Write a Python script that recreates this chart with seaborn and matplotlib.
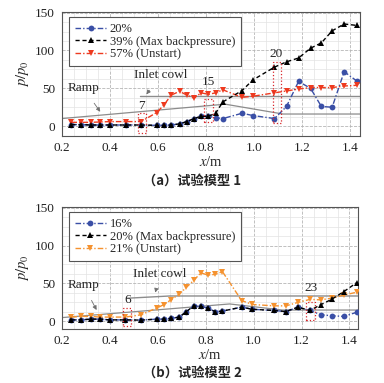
import seaborn as sns
import matplotlib.pyplot as plt
from matplotlib.patches import Rectangle
from matplotlib.ticker import MultipleLocator, AutoMinorLocator

# pressure tap stations (x, m), 27 taps
x_st = [0.24, 0.28, 0.32, 0.36, 0.40, 0.465, 0.53, 0.595, 0.625, 0.655, 0.69, 0.72, 0.75, 0.78,
        0.81, 0.84, 0.87, 0.95, 0.995, 1.085, 1.135, 1.185, 1.235, 1.28, 1.325, 1.375, 1.43]

# model 1
m1_20 = [2, 2, 1.5, 1.5, 1.5, 1.5, 1.5, 1, 1, 1.5, 3, 6, 10, 13, 13,
         11, 10, 17, 14, 10, 26, 59, 50, 26, 25, 72, 59]
m1_39 = [2, 2, 1.5, 1.5, 1.5, 1.5, 1.5, 1, 1, 1.5, 3, 6, 10, 13, 13,
         17, 32, 47, 61, 78, 85, 90, 103, 110, 126, 135, 133]
m1_57 = [5, 5, 5, 5.5, 6, 6, 6, 18, 28, 41, 46, 41, 37, 44, 42,
         44, 48, 38, 39.5, 44, 46.5, 49, 51, 51, 51, 53, 54]
m1_labels = ["20%", "39% (Max backpressure)", "57% (Unstart)"]

# model 2
m2_16 = [2, 2, 3, 3, 2, 2, 1.7, 3, 3, 4, 5.7, 13, 20.5, 19.7, 17.5,
         12.7, 13.6, 18.8, 16, 14.4, 13, 18.8, 14.4, 8.8, 7.5, 6.6, 12]
m2_20 = [2, 2, 3, 3, 2, 2, 1.7, 3, 3, 4, 5.7, 13, 20.5, 19.7, 17.5,
         12.7, 13.6, 18.8, 16, 14.4, 13, 18.8, 14.4, 22, 29, 39, 51]
m2_21 = [5.7, 6.6, 6.6, 5.7, 5.7, 5.7, 8.7, 17.5, 22, 28.4, 36, 45, 54, 64, 61,
         62, 65.6, 27.5, 22.3, 20.5, 20.5, 25, 29, 28.4, 30.6, 34.5, 38.5]
m2_labels = ["16%", "20% (Max backpressure)", "21% (Unstart)"]

# geometry outlines
ramp1_x = [0.2, 0.88, 1.12, 1.44]
ramp1_y = [10, 29, 16, 16]
cowl1_x = [0.525, 1.44]
cowl1_y = [40, 40]
ramp2_x = [0.2, 0.9, 1.12, 1.435]
ramp2_y = [5, 23, 15, 15]
cowl2_x = [0.47, 0.65, 1.435]
cowl2_y = [30.5, 33.5, 33.5]

sns.set_style("white")
plt.rcParams["font.family"] = ["Liberation Serif", "DejaVu Serif"]
plt.rcParams["mathtext.fontset"] = "stix"

fig = plt.figure(figsize=(3.84, 3.83), dpi=100)
ax1 = fig.add_axes([0.161, 0.645, 0.776, 0.324])
ax2 = fig.add_axes([0.161, 0.141, 0.771, 0.319])

blue = "#3a4fa6"
red = "#ee3a1f"
orange = "#f5922f"


def draw(ax, ys, labels, colors, rx, ry, cx, cy):
    ax.plot(rx, ry, color="#8c8c8c", lw=0.9, zorder=2)
    ax.plot(cx, cy, color="#8c8c8c", lw=1.0, zorder=2)
    sns.lineplot(x=x_st, y=ys[0], ax=ax, color=colors[0], marker="o", markersize=4.2,
                 markeredgewidth=0, linestyle=(0, (4, 1.5, 1, 1.5)), lw=1.0,
                 label=labels[0], zorder=3)
    sns.lineplot(x=x_st, y=ys[1], ax=ax, color="black", marker="^", markersize=4.8,
                 markeredgewidth=0, linestyle=(0, (3, 2)), lw=1.0, label=labels[1], zorder=4)
    sns.lineplot(x=x_st, y=ys[2], ax=ax, color=colors[2], marker="v", markersize=4.8,
                 markeredgewidth=0, linestyle=(0, (4, 1.5, 1, 1.5)), lw=1.0,
                 label=labels[2], zorder=3)
    ax.xaxis.set_major_locator(MultipleLocator(0.2))
    ax.yaxis.set_major_locator(MultipleLocator(50))
    ax.xaxis.set_minor_locator(AutoMinorLocator(4))
    ax.yaxis.set_minor_locator(AutoMinorLocator(4))
    ax.grid(which="major", color="#b5b5b5", linestyle="--", lw=0.6)
    ax.grid(which="minor", color="#e3e3e3", linestyle="-", lw=0.5)
    ax.set_axisbelow(True)
    ax.tick_params(axis="both", which="major", labelsize=9.5, direction="in", length=3,
                   width=0.6, colors="#222222")
    ax.tick_params(axis="y", pad=5)
    ax.tick_params(axis="x", pad=4)
    for s in ax.spines.values():
        s.set_color("#555555")
        s.set_linewidth(0.8)
    ax.set_xlabel("$x$/m", fontsize=10.5, labelpad=1)
    ax.set_ylabel("$p/p_0$", fontsize=10.5, labelpad=3)
    ax.set_xticklabels([f"{t:.1f}" for t in ax.get_xticks()])
    leg = ax.legend(loc="upper left", bbox_to_anchor=(0.025, 0.955), fontsize=9,
                    frameon=True, fancybox=False, framealpha=1, edgecolor="#555555",
                    handlelength=2.5, handletextpad=0.3, borderpad=0.45, labelspacing=0.05,
                    borderaxespad=0)
    leg.get_frame().set_linewidth(0.8)


def box(ax, x0, x1, y0, y1):
    ax.add_patch(Rectangle((x0, y0), x1 - x0, y1 - y0, fill=False, edgecolor="#d9252a",
                           linestyle=":", lw=0.9, zorder=5))


def arrow(ax, text, xy, xytext):
    ax.annotate(text, xy=xy, xytext=xytext, fontsize=9.5, ha="center", va="center",
                arrowprops=dict(arrowstyle="-|>", color="#707070", lw=0.6,
                                mutation_scale=6, shrinkA=5, shrinkB=0))


# panel (a)
draw(ax1, [m1_20, m1_39, m1_57], m1_labels, [blue, "black", red],
     ramp1_x, ramp1_y, cowl1_x, cowl1_y)
ax1.set_xlim(0.2, 1.44)
ax1.set_ylim(-13, 151)
ax1.set_yticks([0, 50, 100, 150])
arrow(ax1, "Ramp", (0.36, 19), (0.29, 50))
arrow(ax1, "Inlet cowl", (0.552, 42), (0.61, 67))
box(ax1, 0.519, 0.55, -9.5, 17.5)
box(ax1, 0.793, 0.828, 5, 36.5)
box(ax1, 1.077, 1.11, 4.5, 85)
ax1.text(0.533, 26, "7", fontsize=9.5, ha="center", va="center")
ax1.text(0.81, 58, "15", fontsize=9.5, ha="center", va="center")
ax1.text(1.09, 95, "20", fontsize=9.5, ha="center", va="center")

# panel (b)
draw(ax2, [m2_16, m2_20, m2_21], m2_labels, [blue, "black", orange],
     ramp2_x, ramp2_y, cowl2_x, cowl2_y)
ax2.set_xlim(0.2, 1.435)
ax2.set_ylim(-10, 151)
ax2.set_yticks([0, 50, 100, 150])
arrow(ax2, "Ramp", (0.345, 15), (0.29, 48))
arrow(ax2, "Inlet cowl", (0.59, 38), (0.61, 63))
box(ax2, 0.456, 0.49, -6.5, 17.5)
box(ax2, 1.22, 1.257, 1.3, 25)
ax2.text(0.474, 28, "6", fontsize=9.5, ha="center", va="center")
ax2.text(1.239, 44, "23", fontsize=9.5, ha="center", va="center")

cap = ["Noto Sans CJK SC", "DejaVu Sans"]
fig.text(0.5, 0.527, "（a）试验模型 1", fontsize=9.5, ha="center", va="center",
         family=cap, fontweight="bold")
fig.text(0.5, 0.027, "（b）试验模型 2", fontsize=9.5, ha="center", va="center",
         family=cap, fontweight="bold")

plt.savefig("out.png", dpi=100)
